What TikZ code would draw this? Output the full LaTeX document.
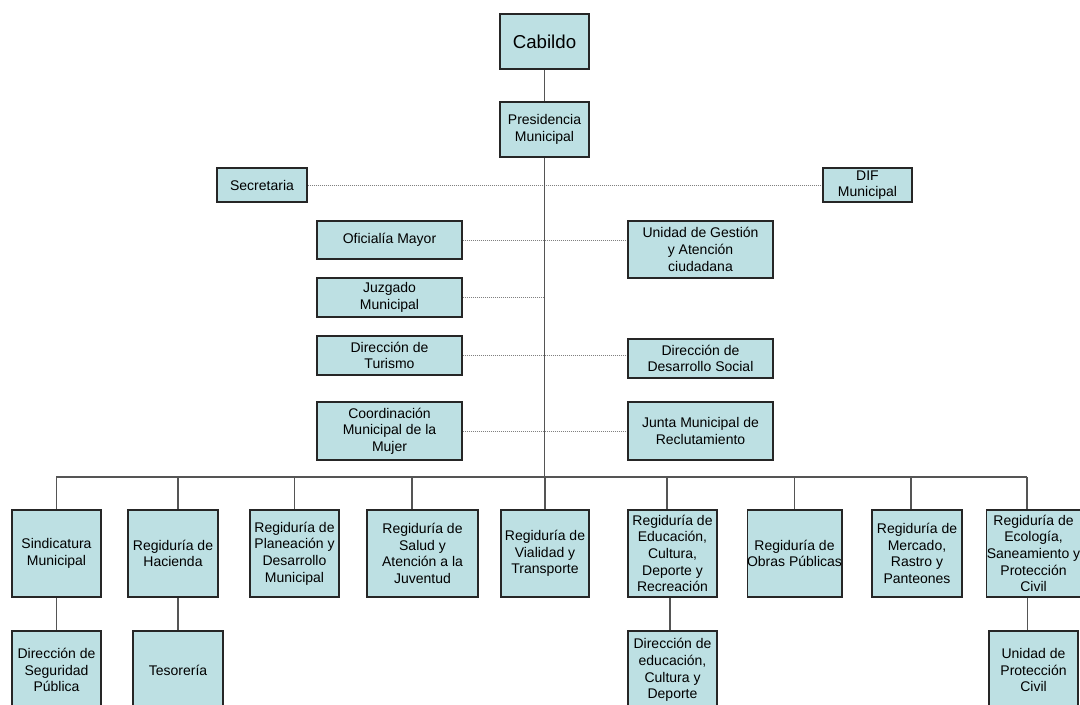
\documentclass[tikz,border=0pt]{standalone}
\usepackage{fontspec}
\setmainfont{Liberation Sans}
\usepackage{tikz}
\usetikzlibrary{backgrounds}
\definecolor{cajaazul}{HTML}{BDE0E3}
\definecolor{lineagris}{HTML}{555555}

\begin{document}
\begin{tikzpicture}[x=0.75pt,y=0.75pt,yscale=-1,xscale=1,
  caja/.style={draw=black!85,fill=cajaazul,line width=0.8pt,align=center,inner sep=0pt,font=\fontsize{10.5}{12.5}\selectfont},
  enlace/.style={draw=lineagris,line width=1.3pt},
  punteado/.style={draw=gray,line width=0.6pt,dash pattern=on 0.75pt off 0.75pt}]
\useasboundingbox (0,0) rectangle (1080,704);
\clip (0,0) rectangle (1080,704);

%Cabildo y presidencia
\node[caja,minimum width=66.75pt,minimum height=41.25pt,font=\fontsize{14}{16}\selectfont] (cab) at (544.5,41.5) {Cabildo};
\node[caja,minimum width=66.75pt,minimum height=41.25pt] (pres) at (544.5,129.5) {Presidencia\\Municipal};

%Staff
\node[caja,minimum width=67.5pt,minimum height=25.5pt] (sec) at (262,185) {Secretaria};
\node[caja,minimum width=66.75pt,minimum height=25.5pt] (dif) at (867.5,185) {DIF\\Municipal};
\node[caja,minimum width=108.75pt,minimum height=28.5pt] (ofi) at (389.5,240) {Oficialía Mayor};
\node[caja,minimum width=108.75pt,minimum height=42.75pt] (uni) at (700.5,249.5) {Unidad de Gestión\\y Atención\\ciudadana};
\node[caja,minimum width=108.75pt,minimum height=29.25pt] (juz) at (389.5,297.5) {Juzgado\\Municipal};
\node[caja,minimum width=108.75pt,minimum height=29.25pt] (tur) at (389.5,355.5) {Dirección de\\Turismo};
\node[caja,minimum width=108.75pt,minimum height=29.25pt] (des) at (700.5,358.5) {Dirección de\\Desarrollo Social};
\node[caja,minimum width=108.75pt,minimum height=43.5pt] (coo) at (389.5,431) {Coordinación\\Municipal de la\\Mujer};
\node[caja,minimum width=108.75pt,minimum height=43.5pt] (jun) at (700.5,431) {Junta Municipal de\\Reclutamiento};

%Regidurias
\node[caja,minimum width=66.75pt,minimum height=65.25pt] (sin) at (56.5,553.5) {Sindicatura\\Municipal};
\node[caja,minimum width=67.5pt,minimum height=65.25pt] (hac) at (173,553.5) {Regiduría de\\Hacienda};
\node[caja,minimum width=66.75pt,minimum height=65.25pt] (pla) at (294.5,553.5) {Regiduría de\\Planeación y\\Desarrollo\\Municipal};
\node[caja,minimum width=83.25pt,minimum height=65.25pt] (sal) at (422.5,553.5) {Regiduría de\\Salud y\\Atención a la\\Juventud};
\node[caja,minimum width=66pt,minimum height=65.25pt] (via) at (545,553.5) {Regiduría de\\Vialidad y\\Transporte};
\node[caja,minimum width=66.75pt,minimum height=65.25pt] (edu) at (672.5,553.5) {Regiduría de\\Educación,\\Cultura,\\Deporte y\\Recreación};
\node[caja,minimum width=66.75pt,minimum height=65.25pt] (obr) at (794.5,553.5) {Regiduría de\\Obras Públicas};
\node[caja,minimum width=67.5pt,minimum height=65.25pt] (mer) at (917,553.5) {Regiduría de\\Mercado,\\Rastro y\\Panteones};
\node[caja,minimum width=66.75pt,minimum height=65.25pt] (eco) at (1033.5,553.5) {Regiduría de\\Ecología,\\Saneamiento y\\Protección\\Civil};

%Direcciones
\node[caja,minimum width=66.75pt,minimum height=58.5pt] (seg) at (56.5,670) {Dirección de\\Seguridad\\Pública};
\node[caja,minimum width=67.5pt,minimum height=58.5pt] (tes) at (178,670) {Tesorería};
\node[caja,minimum width=66.75pt,minimum height=58.5pt] (ded) at (672.5,670) {Dirección de\\educación,\\Cultura y\\Deporte};
\node[caja,minimum width=66.75pt,minimum height=58.5pt] (upc) at (1033.5,670) {Unidad de\\Protección\\Civil};

\coordinate (izq) at (56,477);
\coordinate (der) at (1027,477);

\begin{scope}[on background layer]
%lineas punteadas
\draw[punteado] (sec) -- (dif);
\draw[punteado] (ofi.east) -- (ofi.east -| uni.west);
\draw[punteado] (juz.east) -- (juz.east -| pres.south);
\draw[punteado] (tur.east) -- (tur.east -| des.west);
\draw[punteado] (coo.east) -- (coo.east -| jun.west);
%lineas
\draw[enlace] (cab) -- (pres);
\draw[enlace] (pres.south) -- (pres.south |- izq);
\draw[enlace] (izq) -- (der);
\foreach \nn/\dx in {sin/0,hac/3.75,pla/0,sal/-7.9,via/0,edu/-4.1,obr/0,mer/-4.5,eco/-4.9}
  \draw[enlace] ([xshift=\dx pt]\nn.north) -- ([xshift=\dx pt]\nn.north |- izq);
\draw[enlace] (sin.south) -- (seg.north);
\draw[enlace] (tes.north) -- (tes.north |- hac.south);
\draw[enlace] ([xshift=-1.9pt]ded.north) -- ([xshift=-1.9pt]ded.north |- edu.south);
\draw[enlace] ([xshift=-4.5pt]upc.north) -- ([xshift=-4.5pt]upc.north |- eco.south);
\end{scope}

\end{tikzpicture}
\end{document}
